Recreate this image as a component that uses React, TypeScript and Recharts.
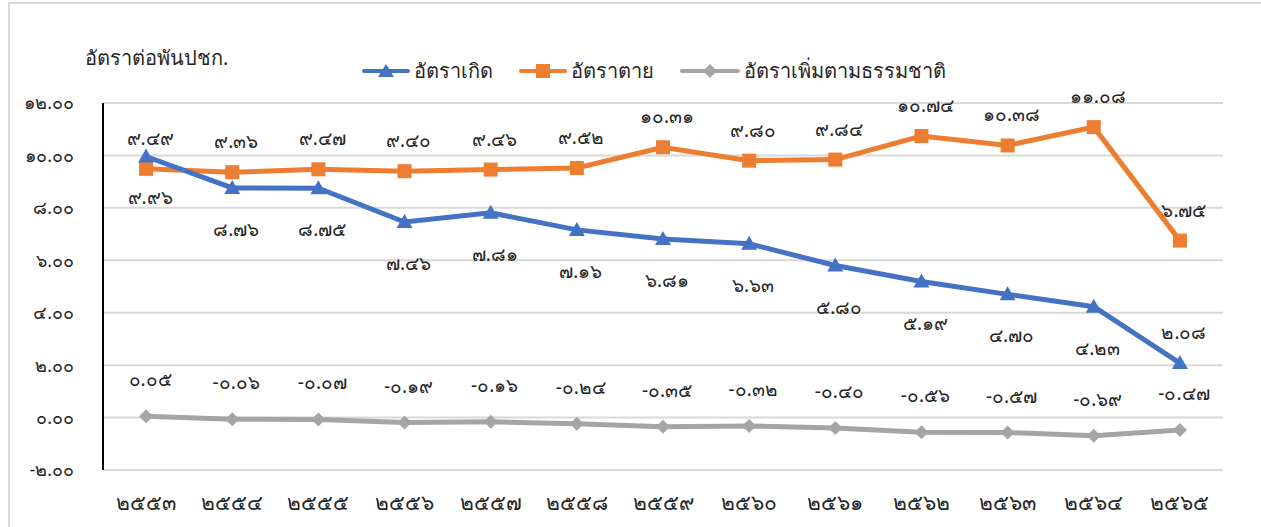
import React from 'react';
import { LineChart, Line, XAxis, YAxis, CartesianGrid } from 'recharts';

const years = [2553, 2554, 2555, 2556, 2557, 2558, 2559, 2560, 2561, 2562, 2563, 2564, 2565];
const birthRate = [9.96, 8.76, 8.75, 7.46, 7.81, 7.16, 6.81, 6.63, 5.8, 5.19, 4.7, 4.23, 2.08];
const deathRate = [9.49, 9.36, 9.47, 9.4, 9.46, 9.52, 10.31, 9.8, 9.84, 10.74, 10.38, 11.08, 6.75];
const naturalRate = [0.05, -0.06, -0.07, -0.19, -0.16, -0.24, -0.35, -0.32, -0.4, -0.56, -0.57, -0.69, -0.47];
const yTicks = [-2, 0, 2, 4, 6, 8, 10, 12];

const BLUE = '#4472C4';
const ORANGE = '#ED7D31';
const GRAY = '#A5A5A5';
const FONT = "Tahoma, 'Noto Sans', 'DejaVu Sans', sans-serif";

const thaiDigits = '๐๑๒๓๔๕๖๗๘๙';
const toThai = (s: string) => s.replace(/[0-9]/g, d => thaiDigits[Number(d)]);
const fmt = (v: number) => toThai(v.toFixed(2));

const data = years.map((y, i) => ({
  year: toThai(String(y)),
  birth: birthRate[i],
  death: deathRate[i],
  natural: naturalRate[i],
}));

const Triangle = ({ cx, cy }: any) => (
  <path d={`M${cx},${cy - 8} L${cx + 8},${cy + 6} L${cx - 8},${cy + 6} Z`} fill={BLUE} />
);
const Square = ({ cx, cy }: any) => (
  <rect x={cx - 7} y={cy - 7} width={14} height={14} fill={ORANGE} />
);
const Diamond = ({ cx, cy }: any) => (
  <path d={`M${cx},${cy - 7} L${cx + 7},${cy} L${cx},${cy + 7} L${cx - 7},${cy} Z`} fill={GRAY} />
);

// dy for each point; last blue label sits above its point like in the original
const makeLabel = (dy: number, lastDy?: number) => (props: any) => {
  const { x, y, value, index } = props;
  const off = lastDy !== undefined && index === years.length - 1 ? lastDy : dy;
  return (
    <text key={index} x={x + 4} y={y + off} textAnchor="middle" dominantBaseline="central"
      fontSize={19} fontFamily={FONT} fill="#262626">
      {fmt(value)}
    </text>
  );
};

const legendItems = [
  { name: 'อัตราเกิด', color: BLUE, shape: 'tri', lineW: 48 },
  { name: 'อัตราตาย', color: ORANGE, shape: 'sq', lineW: 48 },
  { name: 'อัตราเพิ่มตามธรรมชาติ', color: GRAY, shape: 'dia', lineW: 60 },
];

function ChartLegend() {
  return (
    <div style={{ display: 'flex', alignItems: 'center', fontFamily: FONT, fontSize: 20, color: '#262626' }}>
      {legendItems.map(it => (
        <div key={it.name} style={{ display: 'flex', alignItems: 'center', marginRight: 26 }}>
          <svg width={it.lineW} height={16}>
            <line x1={2} y1={8} x2={it.lineW - 2} y2={8} stroke={it.color} strokeWidth={4} strokeLinecap="round" />
            {it.shape === 'tri' && <path d={`M${it.lineW / 2},1 L${it.lineW / 2 + 8},14 L${it.lineW / 2 - 8},14 Z`} fill={it.color} />}
            {it.shape === 'sq' && <rect x={it.lineW / 2 - 7} y={1} width={14} height={14} fill={it.color} />}
            {it.shape === 'dia' && <path d={`M${it.lineW / 2},1 L${it.lineW / 2 + 7},8 L${it.lineW / 2},15 L${it.lineW / 2 - 7},8 Z`} fill={it.color} />}
          </svg>
          <span style={{ marginLeft: 4 }}>{it.name}</span>
        </div>
      ))}
    </div>
  );
}

export default function App() {
  return (
    <div style={{ position: 'absolute', left: 0, top: 0, width: 1261, height: 527, background: '#fff', overflow: 'hidden' }}>
      <div style={{ position: 'absolute', left: 8, top: 2, width: 1300, height: 600, border: '2px solid #d9d9d9' }} />
      <div style={{ position: 'absolute', left: 85, top: 42, fontFamily: FONT, fontSize: 20, color: '#262626' }}>
        อัตราต่อพันปชก.
      </div>
      <div style={{ position: 'absolute', left: 0, top: 0 }}>
        <LineChart width={1261} height={527} data={data} margin={{ top: 103, right: 38, bottom: 17, left: 0 }}>
          <CartesianGrid vertical={false} stroke="#d9d9d9" strokeWidth={2} />
          <XAxis dataKey="year" scale="band" axisLine={false} tickLine={false} tickSize={0} tickMargin={25} height={40}
            tick={{ fontSize: 21, fontFamily: FONT, fill: '#262626' }} interval={0} />
          <YAxis domain={[-2, 12]} ticks={yTicks} width={103} tickLine={false} tickSize={0} tickMargin={29}
            axisLine={{ stroke: '#000', strokeWidth: 2 }} tickFormatter={fmt} allowDataOverflow
            tick={{ fontSize: 18, fontFamily: FONT, fill: '#262626' }} />
          <Line dataKey="natural" name="อัตราเพิ่มตามธรรมชาติ" stroke={GRAY} strokeWidth={5} dot={<Diamond />}
            isAnimationActive={false} label={makeLabel(-37)} />
          <Line dataKey="death" name="อัตราตาย" stroke={ORANGE} strokeWidth={5} dot={<Square />}
            isAnimationActive={false} label={makeLabel(-31)} />
          <Line dataKey="birth" name="อัตราเกิด" stroke={BLUE} strokeWidth={5} dot={<Triangle />}
            isAnimationActive={false} label={makeLabel(41, -31)} />
        </LineChart>
      </div>
      <div style={{ position: 'absolute', left: 362, top: 55 }}>
        <ChartLegend />
      </div>
    </div>
  );
}
